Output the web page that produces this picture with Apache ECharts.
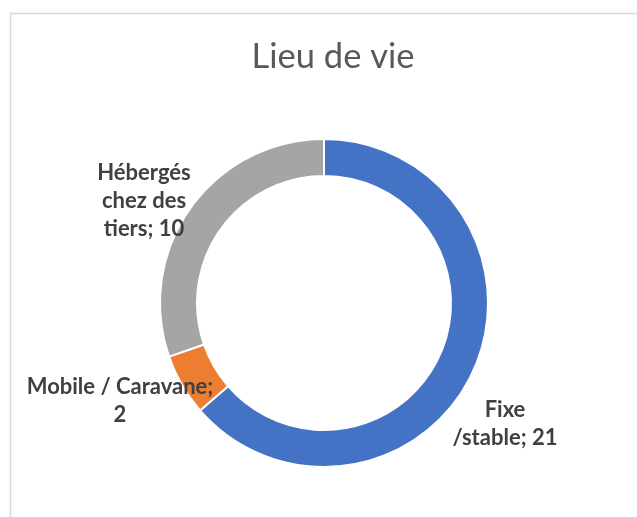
<!DOCTYPE html>
<html>
<head>
<meta charset="utf-8">
<script src="https://cdn.jsdelivr.net/npm/echarts@6/dist/echarts.min.js"></script>
<style>
html,body{margin:0;padding:0;background:#fff;}
#c{width:637px;height:517px;}
</style>
</head>
<body>
<div id="c"></div>
<script>
const title = 'Lieu de vie';
const categories = ['Fixe /stable', 'Mobile / Caravane', 'Hébergés chez des tiers'];
const labelText = ['Fixe\n/stable; ', 'Mobile / Caravane;\n', 'Hébergés\nchez des\ntiers; '];
const values = [21, 2, 10];
const colors = ['#4472C4', '#ED7D31', '#A5A5A5'];
// label anchor positions (style only)
const labelPos = [[505, 424], [120, 401], [144, 201]];

const chart = echarts.init(document.getElementById('c'), null, {renderer: 'canvas'});
chart.setOption({
  animation: false,
  backgroundColor: '#fff',
  graphic: [{
    type: 'rect', left: 8, top: 11, silent: true,
    shape: {width: 700, height: 600},
    style: {fill: 'none', stroke: '#D9D9D9', lineWidth: 1.5}
  }],
  title: {
    text: title, left: 328, textAlign: 'center', top: 34,
    textStyle: {fontFamily: 'Lato', fontWeight: 'normal', fontSize: 34.5, color: '#595959'}
  },
  series: [{
    type: 'pie',
    center: [324, 303],
    radius: [127, 164],
    startAngle: 90,
    clockwise: true,
    data: categories.map((c, i) => ({name: c, value: values[i], itemStyle: {color: colors[i]}})),
    itemStyle: {borderColor: '#fff', borderWidth: 2},
    label: {
      show: true, position: 'outside', overflow: 'none',
      formatter: p => labelText[p.dataIndex] + p.value,
      fontFamily: 'Lato', fontWeight: 'bold', fontSize: 22, lineHeight: 28,
      color: '#404040', align: 'center'
    },
    labelLine: {show: false},
    labelLayout: p => ({x: labelPos[p.dataIndex][0], y: labelPos[p.dataIndex][1], align: 'center', verticalAlign: 'middle'})
  }]
});
</script>
</body>
</html>
